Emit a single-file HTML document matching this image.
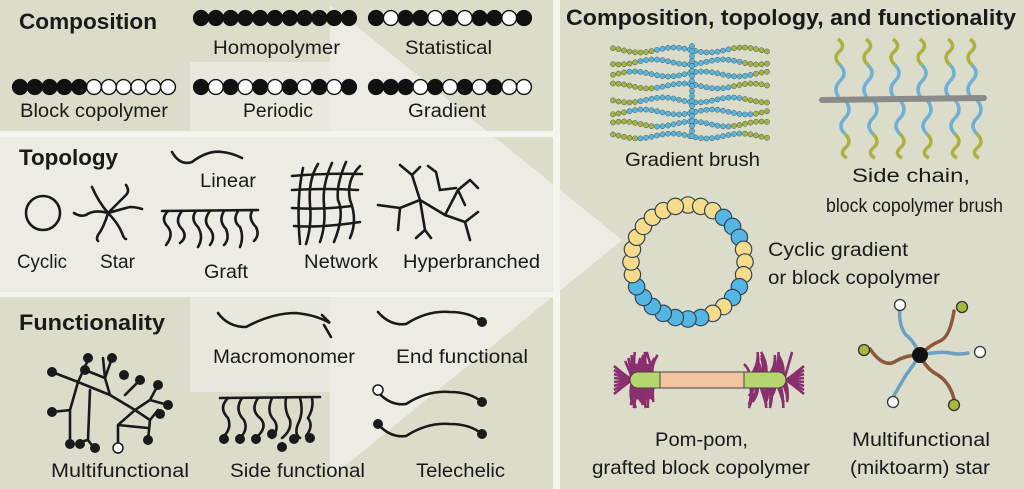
<!DOCTYPE html>
<html><head><meta charset="utf-8"><style>
body{margin:0;background:#f3f3ec;}
svg{display:block;font-family:"Liberation Sans Narrow","Liberation Sans",sans-serif;}
.t{font-size:19px;fill:#1a1a1a;}
.h{font-size:22px;font-weight:bold;fill:#1a1a1a;}
.k{fill:none;stroke:#1a1a1a;stroke-width:2.6;stroke-linecap:round;}
</style></head><body>
<svg id="s" width="1024" height="489" viewBox="0 0 1024 489" xmlns="http://www.w3.org/2000/svg">
<rect width="1024" height="489" fill="#f3f3ec"/>
<rect x="0" y="0" width="553" height="131" fill="#dcdccb"/>
<rect x="0" y="137" width="553" height="155" fill="#dcdccb"/>
<rect x="0" y="297" width="553" height="192" fill="#dcdccb"/>
<rect x="560" y="0" width="464" height="489" fill="#dcdccb"/>
<polygon points="190,62 330,62 330,5 622,240 330,478 330,392 190,392" fill="#e8e8de"/>
<polygon points="330,5 622,240 330,478" fill="#ecece4"/>
<rect x="0" y="137" width="330" height="155" fill="#ecece4"/>
<rect x="0" y="131" width="560" height="6" fill="#f5f5ef"/>
<rect x="0" y="292" width="560" height="5" fill="#f5f5ef"/>
<rect x="553" y="0" width="7" height="489" fill="#f5f5ef"/>
<polygon points="560,190 622,240 560,290" fill="#ecece4"/>

<text class="h" x="19" y="29" textLength="138" lengthAdjust="spacingAndGlyphs">Composition</text>
<text class="h" x="19" y="165" textLength="99" lengthAdjust="spacingAndGlyphs">Topology</text>
<text class="h" x="19" y="330" textLength="146" lengthAdjust="spacingAndGlyphs">Functionality</text>
<text class="h" x="566" y="25" textLength="450" lengthAdjust="spacingAndGlyphs">Composition, topology, and functionality</text>

<g id="comp"></g>
<text class="t" x="213" y="54" textLength="127" lengthAdjust="spacingAndGlyphs">Homopolymer</text>
<text class="t" x="405" y="54" textLength="87" lengthAdjust="spacingAndGlyphs">Statistical</text>
<text class="t" x="20" y="117" textLength="148" lengthAdjust="spacingAndGlyphs">Block copolymer</text>
<text class="t" x="243" y="117" textLength="70" lengthAdjust="spacingAndGlyphs">Periodic</text>
<text class="t" x="408" y="117" textLength="78" lengthAdjust="spacingAndGlyphs">Gradient</text>

<!-- topology -->
<circle cx="43" cy="213" r="17" class="k"/>
<g class="k">
<path d="M108 213 q-10 -12 -16 -26 M108 213 q10 -10 18 -18 q4 -4 0 -10 M108 213 q14 -4 22 -6 q6 0 12 2 M108 213 q10 10 14 20 q2 6 4 6 M108 213 q-4 14 -10 22 q-2 4 0 6 M108 213 q-14 -4 -22 2 q-6 2 -12 -2"/>
<path d="M172 152 q8 14 20 10 q16 -12 30 -10 q10 1 20 6"/>
<path d="M162 211 L258 210"/>
<path d="M168 211 q-8 8 0 16 q6 8 -2 18 M182 211 q-8 10 0 18 q6 8 -2 14 M196 211 q-6 8 2 16 q6 10 0 20 M210 211 q-8 10 0 18 q6 8 0 16 M224 211 q-6 10 2 18 q4 10 -2 16 M238 211 q-6 10 2 16 q4 10 0 20 M252 211 q-4 8 4 16 q4 8 -2 14"/>
<path d="M292 176 Q325 173 362 174 M292 190 Q325 188 358 190 M292 208 Q320 210 352 206 M294 226 Q320 228 360 222"/>
<path d="M303 168 Q296 200 300 244 M318 164 Q308 180 310 205 Q312 225 306 244 M332 163 Q322 185 324 205 Q326 225 320 242 M346 162 Q336 185 338 200 Q345 215 334 242 M360 166 Q346 180 350 200 Q358 220 350 238"/>
<path d="M412 175 l8 -8 M412 175 l-12 -10 M412 175 L420 200 L400 208 M420 200 L425 230 L416 238 M425 230 l6 8 M420 200 L445 215 L458 190 L470 180 M458 190 L465 205 M445 215 L465 222 L478 212 M465 222 L470 240 M378 205 L400 208 M400 208 l-2 22 M436 172 L440 190 L456 188 M436 172 l-8 -6 M470 180 l8 8"/>
</g>
<text class="t" x="17" y="268" textLength="50" lengthAdjust="spacingAndGlyphs">Cyclic</text>
<text class="t" x="100" y="268" textLength="35" lengthAdjust="spacingAndGlyphs">Star</text>
<text class="t" x="200" y="187" textLength="56" lengthAdjust="spacingAndGlyphs">Linear</text>
<text class="t" x="204" y="278" textLength="44" lengthAdjust="spacingAndGlyphs">Graft</text>
<text class="t" x="304" y="268" textLength="74" lengthAdjust="spacingAndGlyphs">Network</text>
<text class="t" x="403" y="268" textLength="137" lengthAdjust="spacingAndGlyphs">Hyperbranched</text>

<!-- functionality -->
<g class="k">
<path d="M218 313 q10 14 28 14 q26 -14 50 -14 q20 2 34 10 l-8 -8 M324 325 l7 12"/>
<path d="M378 312 q12 14 28 12 q22 -14 44 -12 q20 0 32 10"/>
<path d="M378 392 q12 14 28 12 q22 -14 44 -12 q20 0 32 10"/>
<path d="M378 424 q12 14 28 12 q22 -14 44 -12 q20 0 32 10"/>
<path d="M220 398 L320 397"/>
<path d="M228 398 q-10 10 0 20 q4 10 -4 18 M242 398 q-8 12 2 22 q4 8 -2 16 M258 398 q-8 12 2 20 q8 8 -2 18 M272 398 q-6 14 2 22 q6 8 -2 18 M286 398 q-2 12 4 22 q2 10 -8 18 M300 398 q4 14 -2 26 q-4 10 2 14 M312 398 q2 10 -4 20 q6 8 -2 18"/>
<path d="M52 372 L78 382 L88 360 M78 382 L70 410 L52 412 M70 410 L70 440 M78 382 L110 395 L105 378 L112 358 M105 378 L85 370 M110 395 L135 410 L150 400 L158 385 M150 400 L168 405 M135 410 L150 420 L148 440 M150 420 L158 410 M135 410 L118 425 L118 445 M118 425 L148 428 M90 390 L88 440 L80 442 M88 440 L94 448 M105 378 l-2 -20 M125 395 L140 380"/>
</g>
<g fill="#1a1a1a">
<circle cx="482" cy="322" r="5"/><circle cx="482" cy="402" r="5"/><circle cx="482" cy="434" r="5"/><circle cx="378" cy="424" r="5"/>
<circle cx="224" cy="439" r="5"/><circle cx="240" cy="439" r="5"/><circle cx="256" cy="439" r="5"/><circle cx="272" cy="434" r="5"/><circle cx="282" cy="447" r="5"/><circle cx="294" cy="439" r="5"/><circle cx="310" cy="438" r="5"/>
<circle cx="52" cy="372" r="5"/><circle cx="88" cy="358" r="5"/><circle cx="112" cy="358" r="5"/><circle cx="85" cy="370" r="5"/><circle cx="124" cy="375" r="5"/><circle cx="140" cy="380" r="5"/><circle cx="158" cy="385" r="5"/><circle cx="168" cy="405" r="5"/><circle cx="160" cy="414" r="5"/><circle cx="148" cy="440" r="5"/><circle cx="52" cy="412" r="5"/><circle cx="70" cy="444" r="5"/><circle cx="80" cy="444" r="5"/><circle cx="95" cy="448" r="5"/>
</g>
<circle cx="378" cy="390" r="5" fill="#fff" stroke="#1a1a1a" stroke-width="1.5"/>
<circle cx="118" cy="448" r="5" fill="#fff" stroke="#1a1a1a" stroke-width="1.5"/>
<text class="t" x="213" y="363" textLength="142" lengthAdjust="spacingAndGlyphs">Macromonomer</text>
<text class="t" x="396" y="363" textLength="132" lengthAdjust="spacingAndGlyphs">End functional</text>
<text class="t" x="51" y="477" textLength="138" lengthAdjust="spacingAndGlyphs">Multifunctional</text>
<text class="t" x="230" y="477" textLength="135" lengthAdjust="spacingAndGlyphs">Side functional</text>
<text class="t" x="416" y="477" textLength="89" lengthAdjust="spacingAndGlyphs">Telechelic</text>

<!-- right panel -->
<g id="brush"></g>
<text class="t" x="625" y="166" textLength="135" lengthAdjust="spacingAndGlyphs">Gradient brush</text>
<g id="side"></g>
<path d="M822 100 L984 98" stroke="#8a8a88" stroke-width="6" stroke-linecap="round"/>
<text class="t" x="852" y="182" textLength="118" lengthAdjust="spacingAndGlyphs">Side chain,</text>
<text class="t" x="826" y="212" textLength="177" lengthAdjust="spacingAndGlyphs">block copolymer brush</text>
<g id="ring"></g>
<text class="t" x="768" y="256" textLength="140" lengthAdjust="spacingAndGlyphs">Cyclic gradient</text>
<text class="t" x="768" y="284" textLength="172" lengthAdjust="spacingAndGlyphs">or block copolymer</text>
<g id="pom"></g>
<rect x="630" y="372" width="156" height="16" rx="8" fill="#b7d56e" stroke="#444" stroke-width="1"/>
<rect x="660" y="372" width="84" height="16" fill="#f2c4a2" stroke="#444" stroke-width="1"/>
<text class="t" x="655" y="446" textLength="93" lengthAdjust="spacingAndGlyphs">Pom-pom,</text>
<text class="t" x="592" y="474" textLength="218" lengthAdjust="spacingAndGlyphs">grafted block copolymer</text>
<g id="star" fill="none" stroke-width="3.5" stroke-linecap="round">
<path d="M920 355 q-6 -14 -14 -20 q-8 -10 -6 -28" stroke="#6d9fc2"/>
<path d="M920 355 q10 -10 20 -14 q10 -4 14 -30" stroke="#8a5a3a"/>
<path d="M920 355 q20 -4 30 -2 q10 2 18 0" stroke="#6d9fc2"/>
<path d="M920 355 q-14 0 -24 6 q-12 8 -26 -12" stroke="#8a5a3a"/>
<path d="M920 355 q6 14 18 20 q12 8 16 24" stroke="#8a5a3a"/>
<path d="M920 355 q-8 12 -14 20 q-6 10 -14 24" stroke="#6d9fc2"/>
</g>
<circle cx="920" cy="355" r="8" fill="#111"/>
<circle cx="900" cy="305" r="5.5" fill="#fff" stroke="#333" stroke-width="1.3"/>
<circle cx="962" cy="307" r="5.5" fill="#a8b83a" stroke="#333" stroke-width="1.3"/>
<circle cx="980" cy="352" r="5.5" fill="#fff" stroke="#333" stroke-width="1.3"/>
<circle cx="864" cy="350" r="5.5" fill="#a8b83a" stroke="#333" stroke-width="1.3"/>
<circle cx="954" cy="405" r="5.5" fill="#a8b83a" stroke="#333" stroke-width="1.3"/>
<circle cx="893" cy="402" r="5.5" fill="#fff" stroke="#333" stroke-width="1.3"/>
<text class="t" x="852" y="446" textLength="138" lengthAdjust="spacingAndGlyphs">Multifunctional</text>
<text class="t" x="850" y="474" textLength="140" lengthAdjust="spacingAndGlyphs">(miktoarm) star</text>
</svg>
<script>
var NS="http://www.w3.org/2000/svg";
function el(p,t,a){var e=document.createElementNS(NS,t);for(var k in a)e.setAttribute(k,a[k]);p.appendChild(e);return e;}
var comp=document.getElementById('comp');
function row(x,y,pat){for(var i=0;i<pat.length;i++){el(comp,'circle',{cx:x+i*14.8,cy:y,r:7.4,fill:pat[i]=='1'?'#111':'#fff',stroke:'#111','stroke-width':1.4});}}
row(201,18,'11111111111');row(376,18,'10110101101');
row(20,87,'11111000000');row(201,87,'10101010101');row(376,87,'11101010100');
var b=document.getElementById('brush');
var rows=[50,62,74,86,100,112,124,136];
rows.forEach(function(y,j){for(var x=613;x<=768;x+=5.5){var d=Math.abs(x-692);var col=d<(40+(j%3)*12)?'#5cb4da':'#a9b23c';el(b,'circle',{cx:x,cy:y+2.5*Math.sin((x+j*20)/11),r:2.6,fill:col,stroke:'#3a5a60','stroke-width':0.5});}});
for(var y=46;y<=140;y+=5)el(b,'circle',{cx:692,cy:y,r:2.6,fill:'#5cb4da',stroke:'#3a5a60','stroke-width':0.5});
var s=document.getElementById('side');
[840,868,895,922,950,972].forEach(function(x,i){
 el(s,'path',{d:'M'+x+' 99 q-8 -10 0 -18 q8 -8 0 -16',fill:'none',stroke:'#6fb0d4','stroke-width':3.5});
 el(s,'path',{d:'M'+x+' 65 q-8 -8 0 -14 q6 -6 -2 -12',fill:'none',stroke:'#a9b23c','stroke-width':3.5});
 el(s,'path',{d:'M'+(x+5)+' 100 q8 10 0 18 q-8 8 0 16',fill:'none',stroke:'#6fb0d4','stroke-width':3.5});
 el(s,'path',{d:'M'+(x+5)+' 134 q8 8 0 14 q-6 6 2 10',fill:'none',stroke:'#a9b23c','stroke-width':3.5});
});
var r=document.getElementById('ring');
var n=28;for(var i=0;i<n;i++){var a=-Math.PI/2+i*2*Math.PI/n;var cx=688+57*Math.cos(a),cy=262+57*Math.sin(a);
 var deg=(i*360/n);var yel=(deg>=300||deg<30)||(deg>=75&&deg<115)||(deg>=135&&deg<155)||(deg>=250&&deg<300);
 el(r,'circle',{cx:cx,cy:cy,r:8.2,fill:yel?'#f6dc8a':'#55b6e4',stroke:'#345','stroke-width':1.2});}
var p=document.getElementById('pom');
function pom(x0,x1,dir){for(var i=0;i<40;i++){var x=x0+(x1-x0)*((i*7)%40)/40;var up=i%2==0?-1:1;var L=16+(i%5)*3;
 var ex=x+dir*((i%7)-2)*2;var ey=380+up*L;
 el(p,'path',{d:'M'+x+' 380 Q'+(x+dir*4)+' '+(380+up*L*0.5)+' '+ex+' '+ey,fill:'none',stroke:'#8a2f6e','stroke-width':2.6});}
 for(var k=0;k<8;k++){var y=366+k*4;el(p,'path',{d:'M'+(dir<0?x0:x1)+' 380 q'+(dir*10)+' '+(y-380)/2+' '+(dir*18)+' '+(y-380),fill:'none',stroke:'#8a2f6e','stroke-width':2.6});}}
pom(632,656,-1);pom(748,786,1);
</script>
</body></html>
